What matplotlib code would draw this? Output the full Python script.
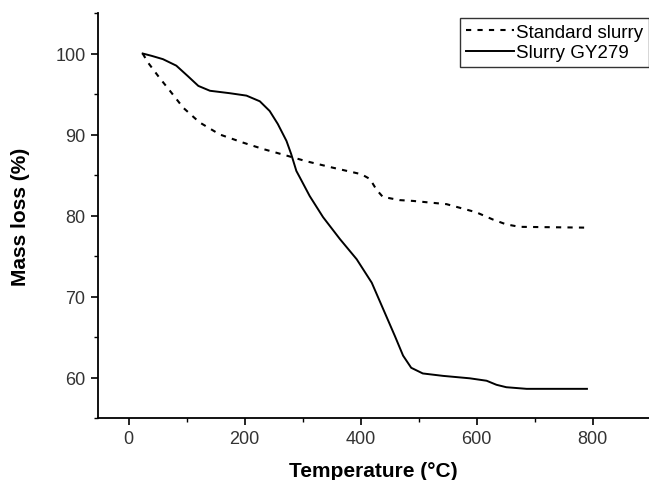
import matplotlib.pyplot as plt
from matplotlib.ticker import MultipleLocator

plt.rcParams["font.family"] = ["Liberation Sans", "DejaVu Sans"]

# Standard slurry (dashed)
std_temp = [24, 33, 53, 71, 94, 122, 157, 197, 232, 272, 306, 352, 401, 416, 427,
            438, 467, 490, 548, 599, 628, 651, 674, 790]
std_mass = [100.0, 98.9, 97.0, 95.4, 93.3, 91.5, 90.0, 89.0, 88.2, 87.4, 86.7, 85.9,
            85.1, 84.5, 83.2, 82.3, 81.9, 81.8, 81.4, 80.4, 79.5, 78.9, 78.6, 78.5]

# Slurry GY279 (solid)
gy_temp = [24, 40, 59, 82, 102, 120, 140, 174, 203, 226, 243, 257, 272, 280, 289,
           295, 312, 335, 364, 393, 419, 439, 459, 473, 487, 507, 542, 588, 617, 634,
           651, 686, 790]
gy_mass = [100.0, 99.7, 99.3, 98.5, 97.2, 96.0, 95.4, 95.1, 94.8, 94.1, 92.9, 91.3,
           89.2, 87.6, 85.5, 84.7, 82.4, 79.8, 77.1, 74.6, 71.7, 68.4, 65.1, 62.7,
           61.2, 60.5, 60.2, 59.9, 59.6, 59.1, 58.8, 58.6, 58.6]

W, H = 649, 481
fig = plt.figure(figsize=(W / 100, H / 100), dpi=100)
ax = fig.add_axes([98 / W, (H - 419) / H, (W - 98) / W, (419 - 14) / H])

ax.plot(std_temp, std_mass, color="black", linestyle=(0, (2.5, 3)), linewidth=1.5,
        label="Standard slurry")
ax.plot(gy_temp, gy_mass, color="black", linestyle="-", linewidth=1.4,
        label="Slurry GY279")

ax.set_xlim(-53, 897)
ax.set_ylim(55, 105)
ax.xaxis.set_major_locator(MultipleLocator(200))
ax.xaxis.set_minor_locator(MultipleLocator(100))
ax.yaxis.set_minor_locator(MultipleLocator(5))
ax.set_yticks([60, 70, 80, 90, 100])

ax.spines["top"].set_visible(False)
ax.spines["right"].set_visible(False)
ax.spines["left"].set_linewidth(1.3)
ax.spines["bottom"].set_linewidth(1.3)
ax.tick_params(which="major", direction="out", length=5, width=1.2, labelsize=13,
               colors="black", labelcolor="#333333", pad=4)
ax.tick_params(which="minor", direction="out", length=3, width=1.0)

ax.set_xlabel("Temperature (°C)", fontsize=15, fontweight="bold", labelpad=10)
ax.set_ylabel("Mass loss (%)", fontsize=15, fontweight="bold", labelpad=18)

leg = ax.legend(loc="upper right", bbox_to_anchor=(1.0, 0.988), fontsize=13.5,
                frameon=True, fancybox=False, handlelength=2.6, handletextpad=0.1,
                borderpad=0.3, labelspacing=0.2, borderaxespad=0)
leg.get_frame().set_edgecolor("black")
leg.get_frame().set_linewidth(1.0)

fig.savefig("out.png", dpi=100)
